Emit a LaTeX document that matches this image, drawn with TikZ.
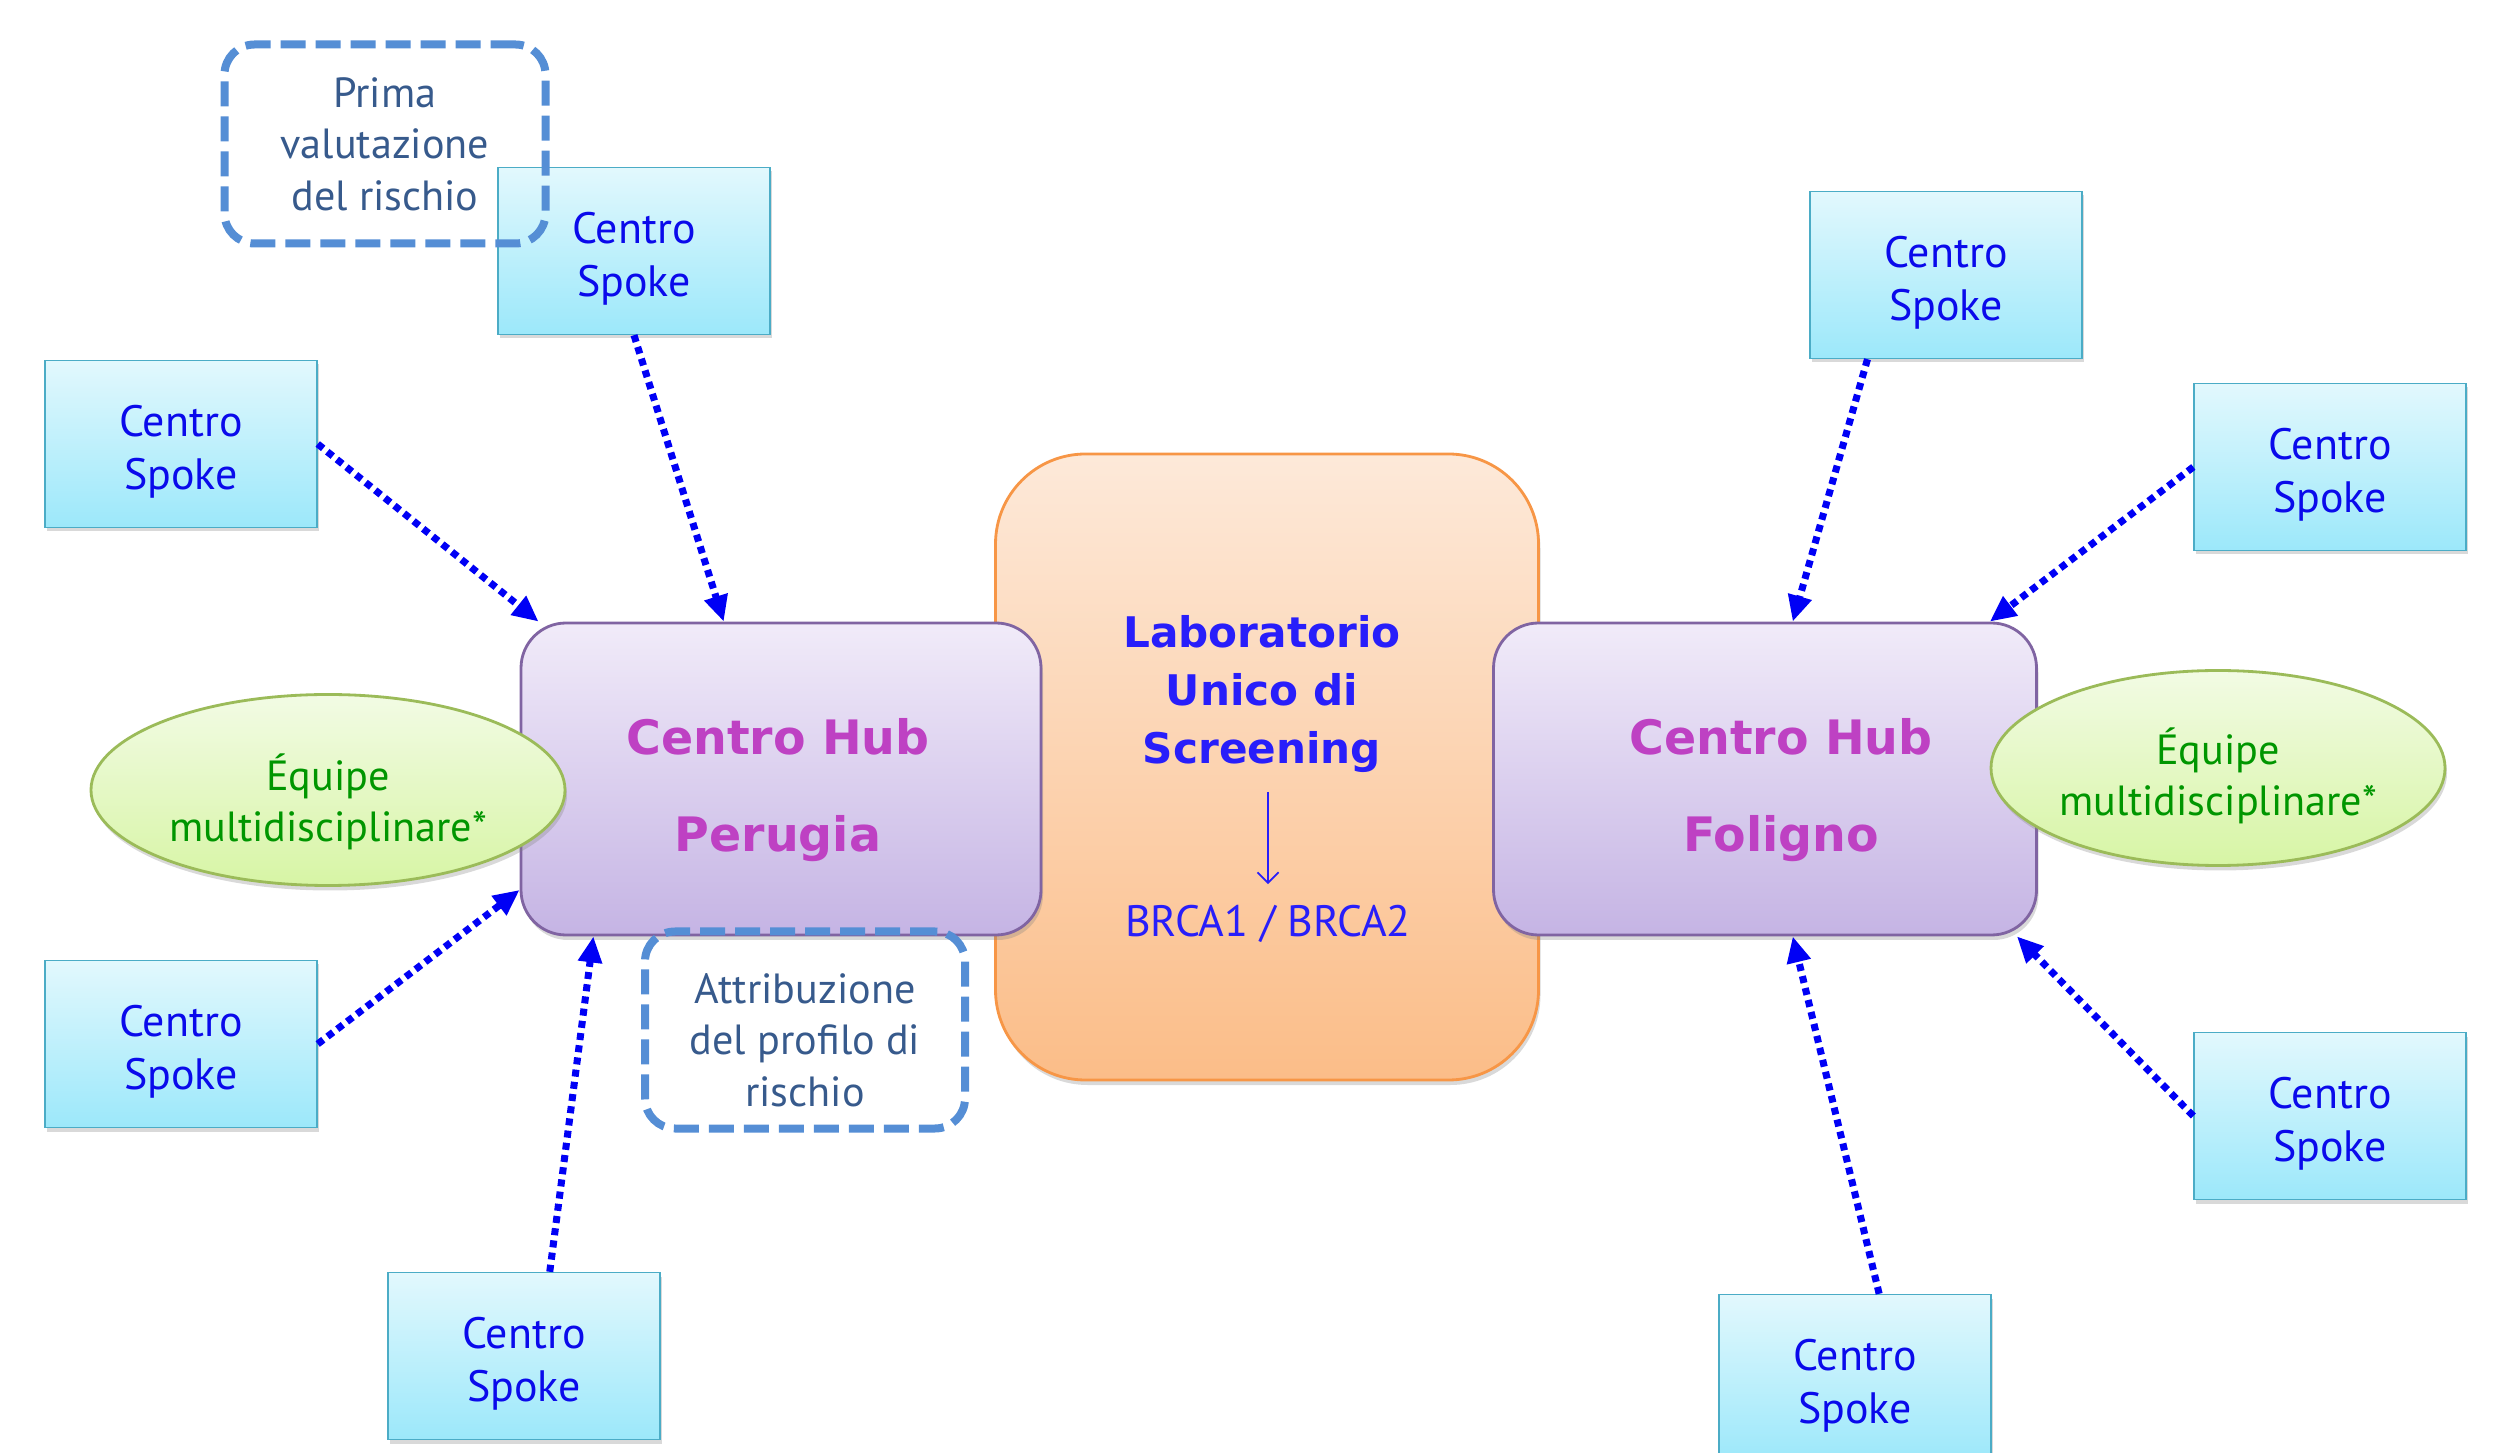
\documentclass[tikz,border=0pt]{standalone}
\usepackage{fontspec}
\setmainfont{PT Sans}
\newfontfamily\titlefont{DejaVu Sans}
\usetikzlibrary{arrows.meta,shapes.geometric,shadows,positioning}
\definecolor{spokeline}{RGB}{75,172,198}
\definecolor{spoketop}{RGB}{226,248,253}
\definecolor{spokebot}{RGB}{156,232,250}
\definecolor{spoketext}{RGB}{10,10,235}
\definecolor{hubline}{RGB}{128,100,162}
\definecolor{hubtop}{RGB}{241,235,249}
\definecolor{hubbot}{RGB}{197,180,228}
\definecolor{hubtext}{RGB}{190,65,195}
\definecolor{labline}{RGB}{247,150,70}
\definecolor{labtop}{RGB}{253,233,217}
\definecolor{labbot}{RGB}{251,189,136}
\definecolor{labtext}{RGB}{40,30,250}
\definecolor{eqline}{RGB}{155,187,89}
\definecolor{eqtop}{RGB}{242,251,228}
\definecolor{eqbot}{RGB}{215,245,165}
\definecolor{eqtext}{RGB}{0,150,0}
\definecolor{noteline}{RGB}{85,142,213}
\definecolor{notetext}{RGB}{55,90,140}
\definecolor{link}{RGB}{0,0,245}
\newcommand{\lift}[1]{\rule{0pt}{#1}}

\begin{document}
\begin{tikzpicture}[
  spoke/.style={rectangle, draw=spokeline, top color=spoketop, bottom color=spokebot,
    minimum width=2.72cm, minimum height=1.67cm, align=center, text=spoketext,
    font=\fontsize{12.5}{15}\selectfont,
    drop shadow={shadow xshift=0.02cm, shadow yshift=-0.04cm, opacity=0.3}},
  hub/.style={rectangle, rounded corners=0.45cm, draw=hubline, thick, top color=hubtop, bottom color=hubbot,
    minimum height=3.12cm,
    drop shadow={shadow xshift=0.02cm, shadow yshift=-0.05cm, opacity=0.3}},
  hubname/.style={align=center, text=hubtext, font=\titlefont\bfseries\fontsize{13.5}{27.5}\selectfont},
  equipe/.style={ellipse, draw=eqline, thick, top color=eqtop, bottom color=eqbot,
    inner sep=0pt, align=center, text=eqtext, font=\fontsize{12}{14.5}\selectfont,
    drop shadow={shadow xshift=0.02cm, shadow yshift=-0.05cm, opacity=0.3}},
  note/.style={rectangle, rounded corners=0.3cm, draw=noteline, line width=0.08cm,
    dash pattern=on 0.25cm off 0.1cm, align=center, text=notetext,
    font=\fontsize{12}{14.7}\selectfont},
  dots/.style={link, line width=2pt, dash pattern=on 2pt off 1.5pt,
    -{Triangle[length=0.26cm, width=0.23cm]}}]

  \useasboundingbox (0,0) rectangle (24.97,-14.53);

  \node[rectangle, rounded corners=0.9cm, draw=labline, thick, top color=labtop, bottom color=labbot,
    minimum width=5.43cm, minimum height=6.26cm,
    drop shadow={shadow xshift=0.02cm, shadow yshift=-0.05cm, opacity=0.3}] (lab) at (12.67,-7.67) {};
  \node[align=center, text=labtext, font=\titlefont\bfseries\fontsize{12}{16.5}\selectfont] (labtxt) at (12.62,-6.94)
    {Laboratorio\\Unico di\\Screening};
  \node[text=labtext, font=\fontsize{12.5}{14}\selectfont, inner sep=1pt] (brca) at (12.68,-9.24) {BRCA1 / BRCA2};

  \node[hub, minimum width=5.20cm] (perugia) at (7.81,-7.79) {};
  \node[hub, minimum width=5.43cm] (foligno) at (17.65,-7.79) {};
  \node[hubname] (perugiatxt) at (7.78,-7.90) {Centro Hub\\Perugia};
  \node[hubname] (folignotxt) at (17.81,-7.90) {Centro Hub\\Foligno};

  \node[equipe, minimum width=4.74cm, minimum height=1.91cm] (eqP) at (3.28,-7.90) {\lift{17pt}Équipe\\multidisciplinare*};
  \node[equipe, minimum width=4.54cm, minimum height=1.95cm] (eqF) at (22.18,-7.68) {\lift{14.8pt}Équipe\\multidisciplinare*};

  \node[spoke] (spA) at (6.34,-2.51) {\lift{13.4pt}Centro\\Spoke};
  \node[spoke] (spB) at (1.81,-4.44) {\lift{13.4pt}Centro\\Spoke};
  \node[spoke] (spC) at (1.81,-10.44) {\lift{13.4pt}Centro\\Spoke};
  \node[spoke] (spD) at (5.24,-13.56) {\lift{13.4pt}Centro\\Spoke};
  \node[spoke] (spE) at (19.46,-2.75) {\lift{13.4pt}Centro\\Spoke};
  \node[spoke] (spF) at (23.30,-4.67) {\lift{13.4pt}Centro\\Spoke};
  \node[spoke] (spG) at (23.30,-11.16) {\lift{13.4pt}Centro\\Spoke};
  \node[spoke] (spH) at (18.55,-13.78) {\lift{13.4pt}Centro\\Spoke};

  \node[note, minimum width=3.21cm, minimum height=1.99cm] (prima) at (3.85,-1.44) {Prima\\valutazione\\del rischio};
  \node[note, minimum width=3.20cm, minimum height=1.97cm] (attrib) at (8.05,-10.30)
    {\lift{14.2pt}Attribuzione\\del profilo di\\rischio};

  \draw[labtext, line width=0.5pt, -{Straight Barb[length=3pt, width=6pt]}, shorten <=0.07cm, shorten >=0.17cm]
    (labtxt.south -| brca.north) -- (brca.north);

  \draw[dots] (spA.south) -- (perugia.110);
  \draw[dots] (spB.east) -- (perugia.147);
  \draw[dots] (spC.east) -- (perugia.203);
  \draw[dots] (spD.73) -- (perugia.220);
  \draw[dots] (spE.227) -- (foligno.80);
  \draw[dots] (spF.west) -- (foligno.35);
  \draw[dots] (spG.west) -- (foligno.-32);
  \draw[dots] (spH.74) -- (foligno.-80);
\end{tikzpicture}
\end{document}
